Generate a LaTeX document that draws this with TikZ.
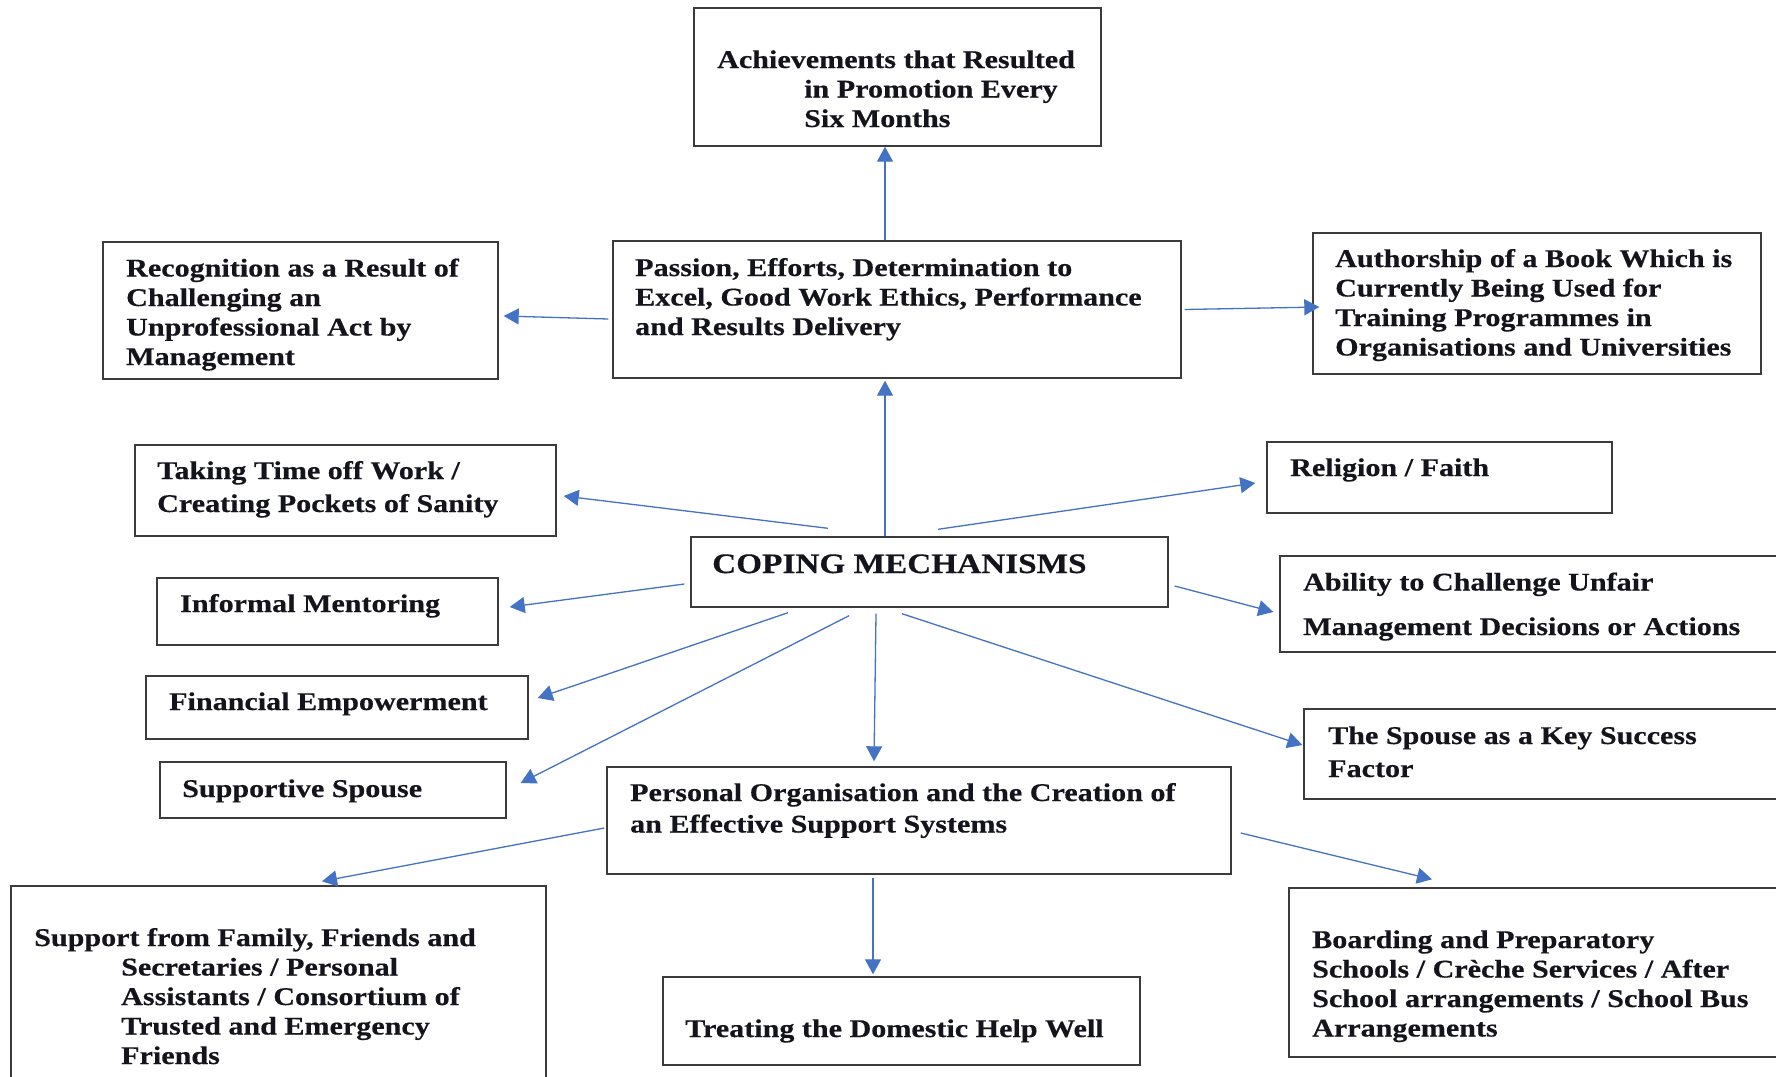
\documentclass[tikz,border=0pt]{standalone}
\usepackage{fontspec}
\setmainfont{Liberation Serif}[FakeStretch=1.18, BoldFeatures={FakeBold=0.4}]
\usetikzlibrary{arrows.meta,calc}
\definecolor{linkblue}{RGB}{68,114,196}
\definecolor{frame}{RGB}{60,60,60}
\definecolor{ink}{RGB}{20,20,28}
\begin{document}
\begin{tikzpicture}[x=1pt,y=-1pt,
  box/.style={draw=frame, line width=1.4pt, inner sep=0pt, fill=none},
  % labels are placed by the baseline of their last line
  lbl/.style={font=\bfseries\fontsize{25.5}{29.5}\selectfont, text=ink,
    inner sep=0pt, align=left, anchor=base west},
  arr/.style={draw=linkblue, line width=1.3pt,
    -{Triangle[length=15pt,width=16pt]}}]
\useasboundingbox[fill=white] (0,0) rectangle (1776,1076);

% frames
\node[box, minimum width=407pt, minimum height=138pt] (ach)   at (897.5,77)    {};
\node[box, minimum width=395pt, minimum height=137pt] (rec)   at (300.5,310.5) {};
\node[box, minimum width=568pt, minimum height=137pt] (pas)   at (897,309.5)   {};
\node[box, minimum width=448pt, minimum height=141pt] (auth)  at (1537,303.5)  {};
\node[box, minimum width=421pt, minimum height=91pt]  (take)  at (345.5,490.5) {};
\node[box, minimum width=345pt, minimum height=71pt]  (rel)   at (1439.5,477.5){};
\node[box, minimum width=477pt, minimum height=70pt]  (cop)   at (929.5,572)   {};
\node[box, minimum width=341pt, minimum height=67pt]  (inf)   at (327.5,611.5) {};
\node[box, minimum width=510pt, minimum height=96pt]  (abil)  at (1535,604)    {};
\node[box, minimum width=382pt, minimum height=63pt]  (fin)   at (337,707.5)   {};
\node[box, minimum width=486pt, minimum height=90pt]  (key)   at (1547,754)    {};
\node[box, minimum width=346pt, minimum height=56pt]  (sup)   at (333,790)     {};
\node[box, minimum width=624pt, minimum height=107pt] (per)   at (919,820.5)   {};
\node[box, minimum width=535pt, minimum height=204pt] (fam)   at (278.5,988)   {};
\node[box, minimum width=477pt, minimum height=88pt]  (treat) at (901.5,1021)  {};
\node[box, minimum width=501pt, minimum height=169pt] (board) at (1539.5,972.5) {};

% labels
\node[lbl] (achT) at (717,127) {Achievements that Resulted\\\hspace*{87pt}in Promotion Every\\\hspace*{87pt}Six Months};
\node[lbl] (recT) at (126,365) {Recognition as a Result of\\Challenging an\\Unprofessional Act by\\Management};
\node[lbl] (pasT) at (635,335) {Passion, Efforts, Determination to\\Excel, Good Work Ethics, Performance\\and Results Delivery};
\node[lbl] (authT) at (1335,355.5) {Authorship of a Book Which is\\Currently Being Used for\\Training Programmes in\\Organisations and Universities};
\node[lbl] (takeT) at (157,512) {Taking Time off Work /\\[3.5pt]Creating Pockets of Sanity};
\node[lbl] (relT) at (1290,476) {Religion / Faith};
\node[lbl, font=\bfseries\fontsize{28.2}{32}\selectfont] (copT) at (712,573) {COPING MECHANISMS};
\node[lbl] (infT) at (180,612) {Informal Mentoring};
\node[lbl] (abilT) at (1303,635) {Ability to Challenge Unfair\\[15pt]Management Decisions or Actions};
\node[lbl] (finT) at (169,710) {Financial Empowerment};
\node[lbl] (keyT) at (1328,777) {The Spouse as a Key Success\\[3.5pt]Factor};
\node[lbl] (supT) at (182,797) {Supportive Spouse};
\node[lbl] (perT) at (630,832.5) {Personal Organisation and the Creation of\\[2pt]an Effective Support Systems};
\node[lbl] (famT) at (34,1064) {Support from Family, Friends and\\\hspace*{87pt}Secretaries / Personal\\\hspace*{87pt}Assistants / Consortium of\\\hspace*{87pt}Trusted and Emergency\\\hspace*{87pt}Friends};
\node[lbl] (treatT) at (685,1037) {Treating the Domestic Help Well};
\node[lbl] (boardT) at (1312,1036.5) {Boarding and Preparatory\\Schools / Crèche Services / After\\School arrangements / School Bus\\Arrangements};

% connectors
\draw[arr] ($(pas.north)+(-12,0)$) -- ($(ach.south)+(-12.5,0)$);
\draw[arr] ($(pas.west)+(-4,9.5)$) -- ($(rec.east)+(5,5.5)$);
\draw[arr] ($(pas.east)+(3,0)$) -- ($(auth.west)+(7,3.5)$);
\draw[arr] ($(cop.north)+(-44.5,0)$) -- ($(pas.south)+(-12,2)$);
\draw[arr] ($(cop.north)+(-101.5,-8)$) -- ($(take.east)+(7,5.5)$);
\draw[arr] ($(cop.north)+(8.5,-7)$) -- ($(rel.west)+(-11,5.5)$);
\draw[arr] ($(cop.west)+(-6,12)$) -- ($(inf.east)+(11,-4.5)$);
\draw[arr] ($(cop.east)+(6,14)$) -- ($(abil.west)+(-6,8)$);
\draw[arr] ($(cop.south)+(-141.5,5)$) -- ($(fin.east)+(9,-9.5)$);
\draw[arr] ($(cop.south)+(-80.5,8)$) -- ($(sup.east)+(14,-7)$);
\draw[arr] ($(cop.south)+(-53.5,6)$) -- ($(per.north)+(-45,-5)$);
\draw[arr] ($(cop.south)+(-27.5,6)$) -- ($(key.west)+(-1,-9)$);
\draw[arr] ($(per.west)+(-2,7.5)$) -- ($(fam.north)+(43.5,-4)$);
\draw[arr] ($(per.east)+(9,12.5)$) -- ($(board.north)+(-107.5,-8)$);
\draw[arr] ($(per.south)+(-46,3)$) -- ($(treat.north)+(-28.5,-2)$);
\end{tikzpicture}
\end{document}
